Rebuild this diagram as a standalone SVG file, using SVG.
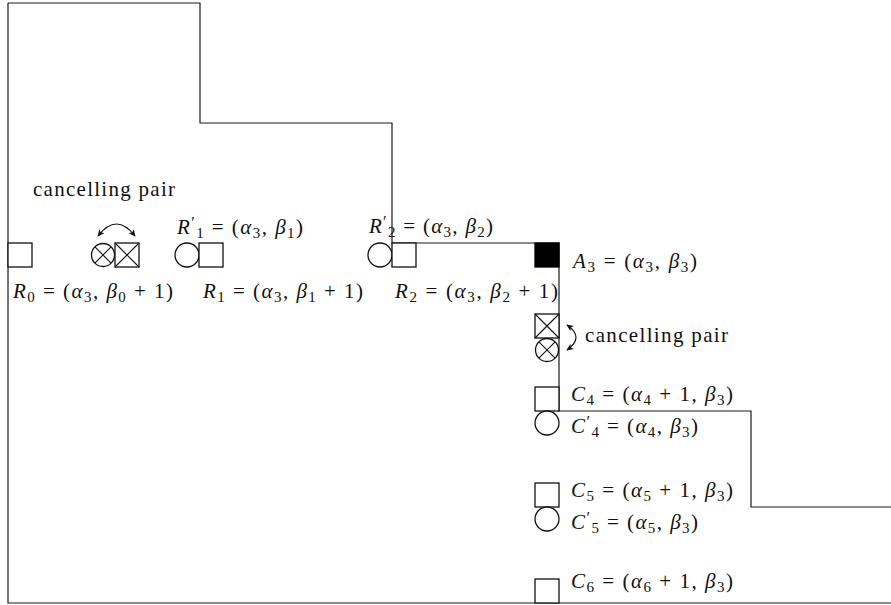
<svg xmlns="http://www.w3.org/2000/svg" width="891" height="605" viewBox="0 0 891 605">
<style>
.bd{fill:none;stroke:#1a1a1a;stroke-width:1.2}
.sq{fill:#fff;stroke:#111;stroke-width:1.3}
.ci{fill:#fff;stroke:#111;stroke-width:1.3}
.x{stroke:#111;stroke-width:1.1}
.arr{fill:none;stroke:#111;stroke-width:1.2}
text{font-family:"Liberation Serif","DejaVu Serif",serif;font-size:21px;fill:#111}
.i{font-style:italic}
.s{font-size:15px}
.p{font-size:16px}
</style>
<defs>
<marker id="ah" viewBox="0 0 10 10" refX="8" refY="5" markerWidth="8" markerHeight="8" orient="auto-start-reverse" markerUnits="userSpaceOnUse">
<path d="M0,1 L9,5 L0,9 L2.5,5 Z" fill="#111"/>
</marker>
</defs>
<g id="connectors">
<path class="bd" d="M8,3 V603 H891"/>
<path class="bd" d="M8,3 H200 V123 H392 V243 H559 V411 H751 V507 H891"/>
<path class="arr" d="M98,236 Q116.5,212 135,236" marker-start="url(#ah)" marker-end="url(#ah)"/>
<path class="arr" d="M567,325 Q585,337.5 567,350" marker-start="url(#ah)" marker-end="url(#ah)"/>
</g>
<g id="R0"><rect class="sq" x="8" y="243" width="24" height="24"/>
<text x="13" y="298" textLength="160" lengthAdjust="spacing"><tspan class="i">R</tspan><tspan class="s" dy="4">0</tspan><tspan dy="-4"> = (</tspan><tspan class="i">α</tspan><tspan class="s" dy="4">3</tspan><tspan dy="-4">, </tspan><tspan class="i">β</tspan><tspan class="s" dy="4">0</tspan><tspan dy="-4"> + 1)</tspan></text></g>
<g id="cancel1">
<circle class="ci" cx="103" cy="255" r="11.5"/>
<path class="x" d="M94.9,246.9 L111.1,263.1 M111.1,246.9 L94.9,263.1"/>
<rect class="sq" x="115" y="243" width="24" height="24"/>
<path class="x" d="M115,243 L139,267 M139,243 L115,267"/>
<text x="33" y="196" textLength="142" lengthAdjust="spacing">cancelling pair</text>
</g>
<g id="R1p"><circle class="ci" cx="187" cy="255" r="12"/>
<text x="177" y="234" textLength="126" lengthAdjust="spacing"><tspan class="i">R</tspan><tspan class="p" dy="-6">′</tspan><tspan class="s" dy="10">1</tspan><tspan dy="-4"> = (</tspan><tspan class="i">α</tspan><tspan class="s" dy="4">3</tspan><tspan dy="-4">, </tspan><tspan class="i">β</tspan><tspan class="s" dy="4">1</tspan><tspan dy="-4">)</tspan></text></g>
<g id="R1"><rect class="sq" x="199" y="243" width="24" height="24"/>
<text x="203" y="298" textLength="160" lengthAdjust="spacing"><tspan class="i">R</tspan><tspan class="s" dy="4">1</tspan><tspan dy="-4"> = (</tspan><tspan class="i">α</tspan><tspan class="s" dy="4">3</tspan><tspan dy="-4">, </tspan><tspan class="i">β</tspan><tspan class="s" dy="4">1</tspan><tspan dy="-4"> + 1)</tspan></text></g>
<g id="R2p"><circle class="ci" cx="380" cy="255" r="12"/>
<text x="369" y="233" textLength="124" lengthAdjust="spacing"><tspan class="i">R</tspan><tspan class="p" dy="-6">′</tspan><tspan class="s" dy="10">2</tspan><tspan dy="-4"> = (</tspan><tspan class="i">α</tspan><tspan class="s" dy="4">3</tspan><tspan dy="-4">, </tspan><tspan class="i">β</tspan><tspan class="s" dy="4">2</tspan><tspan dy="-4">)</tspan></text></g>
<g id="R2"><rect class="sq" x="392" y="243" width="24" height="24"/>
<text x="395" y="298" textLength="163" lengthAdjust="spacing"><tspan class="i">R</tspan><tspan class="s" dy="4">2</tspan><tspan dy="-4"> = (</tspan><tspan class="i">α</tspan><tspan class="s" dy="4">3</tspan><tspan dy="-4">, </tspan><tspan class="i">β</tspan><tspan class="s" dy="4">2</tspan><tspan dy="-4"> + 1)</tspan></text></g>
<g id="A3"><rect x="535" y="243" width="24" height="24" fill="#000" stroke="#000" stroke-width="1.3"/>
<text x="573" y="268" textLength="124" lengthAdjust="spacing"><tspan class="i">A</tspan><tspan class="s" dy="4">3</tspan><tspan dy="-4"> = (</tspan><tspan class="i">α</tspan><tspan class="s" dy="4">3</tspan><tspan dy="-4">, </tspan><tspan class="i">β</tspan><tspan class="s" dy="4">3</tspan><tspan dy="-4">)</tspan></text></g>
<g id="cancel2">
<rect class="sq" x="535" y="314" width="24" height="24"/>
<path class="x" d="M535,314 L559,338 M559,314 L535,338"/>
<circle class="ci" cx="547" cy="350" r="11.5"/>
<path class="x" d="M538.9,341.9 L555.1,358.1 M555.1,341.9 L538.9,358.1"/>
<text x="585" y="342" textLength="143" lengthAdjust="spacing">cancelling pair</text>
</g>
<g id="C4"><rect class="sq" x="535" y="387" width="24" height="24"/>
<text x="571" y="401" textLength="162" lengthAdjust="spacing"><tspan class="i">C</tspan><tspan class="s" dy="4">4</tspan><tspan dy="-4"> = (</tspan><tspan class="i">α</tspan><tspan class="s" dy="4">4</tspan><tspan dy="-4"> + 1, </tspan><tspan class="i">β</tspan><tspan class="s" dy="4">3</tspan><tspan dy="-4">)</tspan></text></g>
<g id="C4p"><circle class="ci" cx="547" cy="423" r="12"/>
<text x="571" y="433" textLength="127" lengthAdjust="spacing"><tspan class="i">C</tspan><tspan class="p" dy="-6">′</tspan><tspan class="s" dy="10">4</tspan><tspan dy="-4"> = (</tspan><tspan class="i">α</tspan><tspan class="s" dy="4">4</tspan><tspan dy="-4">, </tspan><tspan class="i">β</tspan><tspan class="s" dy="4">3</tspan><tspan dy="-4">)</tspan></text></g>
<g id="C5"><rect class="sq" x="535" y="483" width="24" height="24"/>
<text x="571" y="497" textLength="162" lengthAdjust="spacing"><tspan class="i">C</tspan><tspan class="s" dy="4">5</tspan><tspan dy="-4"> = (</tspan><tspan class="i">α</tspan><tspan class="s" dy="4">5</tspan><tspan dy="-4"> + 1, </tspan><tspan class="i">β</tspan><tspan class="s" dy="4">3</tspan><tspan dy="-4">)</tspan></text></g>
<g id="C5p"><circle class="ci" cx="547" cy="519" r="12"/>
<text x="571" y="529" textLength="127" lengthAdjust="spacing"><tspan class="i">C</tspan><tspan class="p" dy="-6">′</tspan><tspan class="s" dy="10">5</tspan><tspan dy="-4"> = (</tspan><tspan class="i">α</tspan><tspan class="s" dy="4">5</tspan><tspan dy="-4">, </tspan><tspan class="i">β</tspan><tspan class="s" dy="4">3</tspan><tspan dy="-4">)</tspan></text></g>
<g id="C6"><rect class="sq" x="535" y="579" width="24" height="24"/>
<text x="571" y="588" textLength="162" lengthAdjust="spacing"><tspan class="i">C</tspan><tspan class="s" dy="4">6</tspan><tspan dy="-4"> = (</tspan><tspan class="i">α</tspan><tspan class="s" dy="4">6</tspan><tspan dy="-4"> + 1, </tspan><tspan class="i">β</tspan><tspan class="s" dy="4">3</tspan><tspan dy="-4">)</tspan></text></g>
</svg>
